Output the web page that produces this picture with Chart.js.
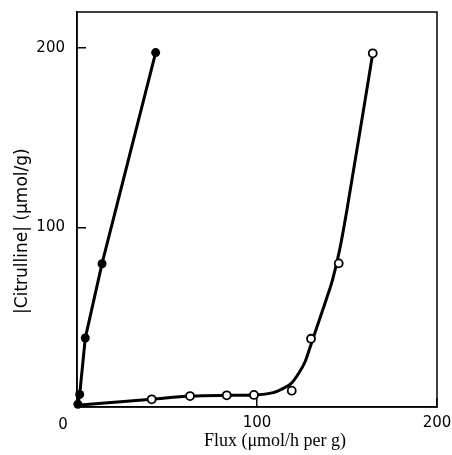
<!DOCTYPE html>
<html>
<head>
<meta charset="utf-8">
<script src="https://cdn.jsdelivr.net/npm/chart.js@4/dist/chart.umd.min.js"></script>
<style>
  html, body { margin: 0; padding: 0; background: #fff; }
  #wrap { width: 452px; height: 455px; }
</style>
</head>
<body>
<div id="wrap"><canvas id="c" width="452" height="455"></canvas></div>
<script>
// ---- data ----
// filled circles (joined by straight segments)
const filledFlux = [0.5, 1.5, 4.6, 13.9, 43.7];
const filledCitrulline = [1.5, 7, 38.4, 79.8, 197.4];

// open circles
const openFlux = [41.5, 62.8, 83.2, 98.3, 119.3, 130, 145.4, 164.3];
const openCitrulline = [4.3, 6.1, 6.5, 6.7, 9.1, 38, 80, 197];

// hand-drawn smooth curve through the open circles
const curveFlux = [0, 41.5, 62.8, 83.2, 98.3, 109, 114.6, 118.9, 123, 126.7, 129.4, 133.1, 138.7, 142, 146, 150, 164.3];
const curveCitrulline = [1, 4.3, 6.1, 6.5, 6.7, 8, 10.4, 13, 18.5, 25.2, 33, 44, 60.6, 71, 88, 110, 197];

const xTickValues = [0, 100, 200];
const yTickValues = [100, 200];
const originLabel = '0';

const xTitle = '\u00a0\u00a0\u00a0\u00a0\u00a0\u00a0\u00a0\u00a0Flux (\u03bcmol/h per g)';
const yTitle = '|Citrulline| (\u03bcmol/g)\u00a0\u00a0\u00a0\u00a0\u00a0\u00a0\u00a0\u00a0';

const toPoints = (xs, ys) => xs.map((x, i) => ({ x: x, y: ys[i] }));

const noPad = s => { s.paddingTop = 0; s.paddingBottom = 0; s.paddingLeft = 0; s.paddingRight = 0; };

const framePlugin = {
  id: 'frame',
  afterDraw(chart) {
    const { ctx, chartArea: a, scales } = chart;
    ctx.save();
    ctx.strokeStyle = '#000';
    ctx.lineWidth = 1.5;
    ctx.strokeRect(a.left, a.top, a.right - a.left, a.bottom - a.top);
    // shared origin label at the lower-left corner
    ctx.fillStyle = '#000';
    ctx.font = '15px "DejaVu Sans"';
    ctx.textAlign = 'center';
    ctx.textBaseline = 'middle';
    ctx.fillText(originLabel, scales.x.getPixelForValue(0) - 14, scales.y.getPixelForValue(0) + 18);
    ctx.restore();
  }
};

new Chart(document.getElementById('c'), {
  type: 'scatter',
  data: {
    datasets: [
      {
        label: 'filled',
        data: toPoints(filledFlux, filledCitrulline),
        showLine: true,
        borderColor: '#000',
        borderWidth: 3,
        tension: 0,
        pointRadius: 4.5,
        pointBackgroundColor: '#000',
        pointBorderColor: '#000',
        pointBorderWidth: 0,
        clip: false,
        order: 1
      },
      {
        label: 'open',
        data: toPoints(openFlux, openCitrulline),
        showLine: false,
        pointRadius: 4,
        pointBackgroundColor: '#fff',
        pointBorderColor: '#000',
        pointBorderWidth: 1.8,
        clip: false,
        order: 1
      },
      {
        label: 'open curve',
        data: toPoints(curveFlux, curveCitrulline),
        showLine: true,
        borderColor: '#000',
        borderWidth: 3,
        cubicInterpolationMode: 'monotone',
        pointRadius: 0,
        clip: false,
        order: 2
      }
    ]
  },
  options: {
    responsive: false,
    animation: false,
    layout: { padding: { top: 12, right: 15, left: 0, bottom: 0 } },
    plugins: { legend: { display: false }, tooltip: { enabled: false } },
    scales: {
      x: {
        type: 'linear',
        min: 0,
        max: 200,
        afterBuildTicks: s => { s.ticks = xTickValues.map(v => ({ value: v })); },
        afterFit: s => { s.height = 48; noPad(s); },
        border: { display: true, color: '#000', width: 1.5 },
        grid: { display: true, drawOnChartArea: false, drawTicks: true, tickLength: -9, color: '#000', lineWidth: 1.5 },
        ticks: {
          color: '#000',
          padding: 16,
          maxRotation: 0,
          font: { family: 'DejaVu Sans', size: 15 },
          callback: v => (v === 0 ? '' : String(v))
        },
        title: {
          display: true,
          text: xTitle,
          color: '#000',
          font: { family: 'Liberation Serif', size: 18 },
          padding: { top: 0, bottom: 3 }
        }
      },
      y: {
        type: 'linear',
        min: 0,
        max: 220,
        afterBuildTicks: s => { s.ticks = yTickValues.map(v => ({ value: v })); },
        afterFit: s => { s.width = 77; noPad(s); },
        border: { display: true, color: '#000', width: 1.5 },
        grid: { display: true, drawOnChartArea: false, drawTicks: true, tickLength: -9, color: '#000', lineWidth: 1.5 },
        ticks: {
          color: '#000',
          padding: 21,
          font: { family: 'DejaVu Sans', size: 15 }
        },
        title: {
          display: true,
          text: yTitle,
          color: '#000',
          font: { family: 'DejaVu Sans', size: 17 },
          padding: { top: 12, bottom: 0 }
        }
      }
    }
  },
  plugins: [framePlugin]
});
</script>
</body>
</html>
